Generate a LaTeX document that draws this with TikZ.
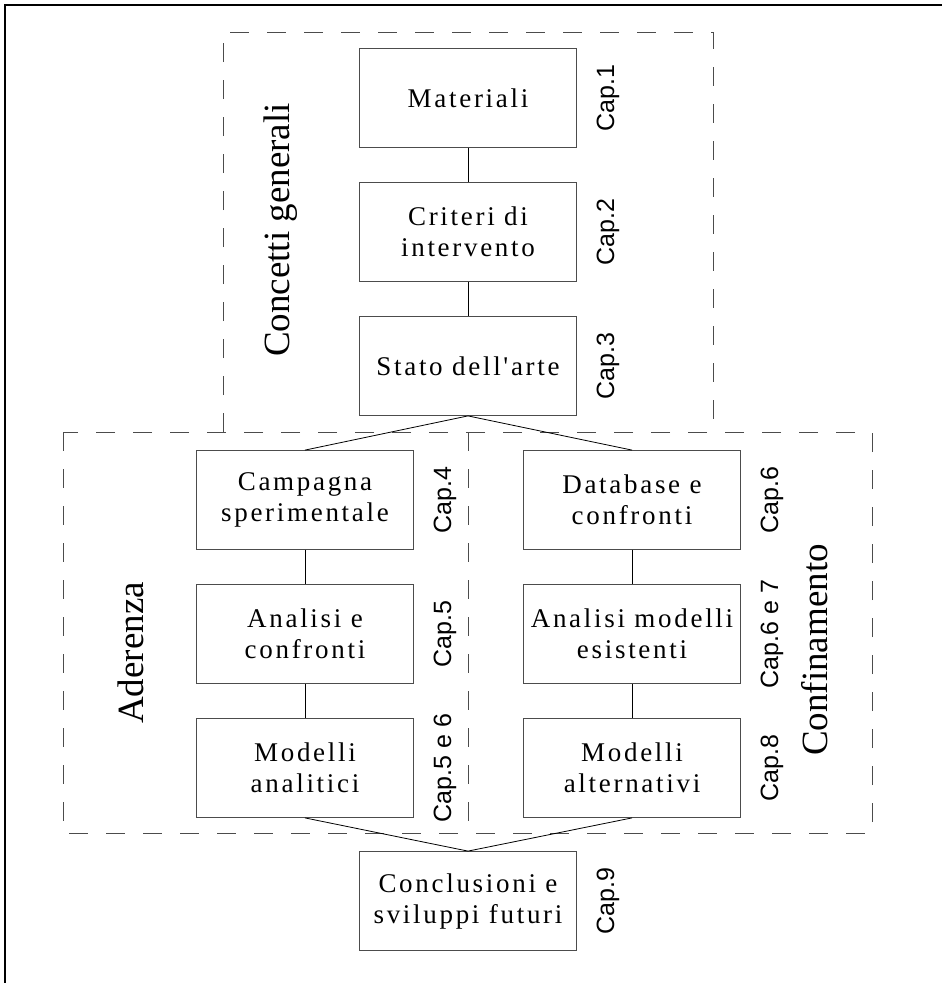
\documentclass[tikz,border=0pt]{standalone}
\usepackage{fontspec}
\setmainfont{Liberation Serif}
\newfontfamily\capfont{Liberation Sans}
\newfontfamily\boxfont[LetterSpace=10]{Liberation Serif}
\usepackage{tikz}
\usetikzlibrary{positioning}

\begin{document}
\begin{tikzpicture}[
  x=1pt, y=-1pt,
  blk/.style={draw=black!70, line width=0.8pt, minimum width=217pt, minimum height=99pt,
    align=center, inner sep=2pt, font=\boxfont\fontsize{27}{31}\selectfont},
  chap/.style={rotate=90, font=\capfont\fontsize{25}{30}\selectfont, inner sep=0pt},
  grp/.style={rotate=90, font=\fontsize{37}{40}\selectfont, inner sep=0pt},
  grpframe/.style={draw=black!70, line width=0.8pt, dash pattern=on 19pt off 18pt},
  lnk/.style={line width=0.8pt}
]
\useasboundingbox (0,0) rectangle (942,983);
\draw[line width=2pt] (5,983) -- (5,5) -- (942,5);

% group frames
\draw[grpframe] (223,432) -- (223,32) -- (713,32) -- (713,432);
\draw[grpframe] (63,432) rectangle (872,833);
\draw[grpframe] (468,432) -- (468,833);

% general concepts
\node[blk] (mat) at (468,98) {Materiali};
\node[blk] (crit) at (468,232) {Criteri di\\intervento};
\node[blk] (sda) at (468,366) {Stato dell'arte};

% bond
\node[blk] (camp) at (305,500) {Campagna\\sperimentale};
\node[blk] (anl) at (305,634) {Analisi e\\confronti};
\node[blk] (mda) at (305,768) {Modelli\\analitici};

% confinement
\node[blk] (dbc) at (632,500) {Database e\\confronti};
\node[blk] (ame) at (632,634) {Analisi modelli\\esistenti};
\node[blk] (mal) at (632,768) {Modelli\\alternativi};

\node[blk] (concl) at (468,901) {Conclusioni e\\sviluppi futuri};

% chapters
\node[chap] at ([xshift=31pt]mat.east) {Cap.1};
\node[chap] at ([xshift=31pt]crit.east) {Cap.2};
\node[chap] at ([xshift=31pt]sda.east) {Cap.3};
\node[chap] at ([xshift=31pt]camp.east) {Cap.4};
\node[chap] at ([xshift=31pt]anl.east) {Cap.5};
\node[chap] at ([xshift=31pt]mda.east) {Cap.5 e 6};
\node[chap] at ([xshift=31pt]dbc.east) {Cap.6};
\node[chap] at ([xshift=31pt]ame.east) {Cap.6 e 7};
\node[chap] at ([xshift=31pt]mal.east) {Cap.8};
\node[chap] at ([xshift=31pt]concl.east) {Cap.9};

% group titles
\node[grp] (tgen) at (281,230) {Concetti generali};
\node[grp] (tade) at (131,653) {Aderenza};
\node[grp] (tcon) at (815,650) {Confinamento};

\draw[lnk] (mat) -- (crit);
\draw[lnk] (crit) -- (sda);
\draw[lnk] (sda.south) -- (camp.north);
\draw[lnk] (sda.south) -- (dbc.north);
\draw[lnk] (camp) -- (anl);
\draw[lnk] (anl) -- (mda);
\draw[lnk] (dbc) -- (ame);
\draw[lnk] (ame) -- (mal);
\draw[lnk] (mda.south) -- (concl.north);
\draw[lnk] (mal.south) -- (concl.north);
\end{tikzpicture}
\end{document}
